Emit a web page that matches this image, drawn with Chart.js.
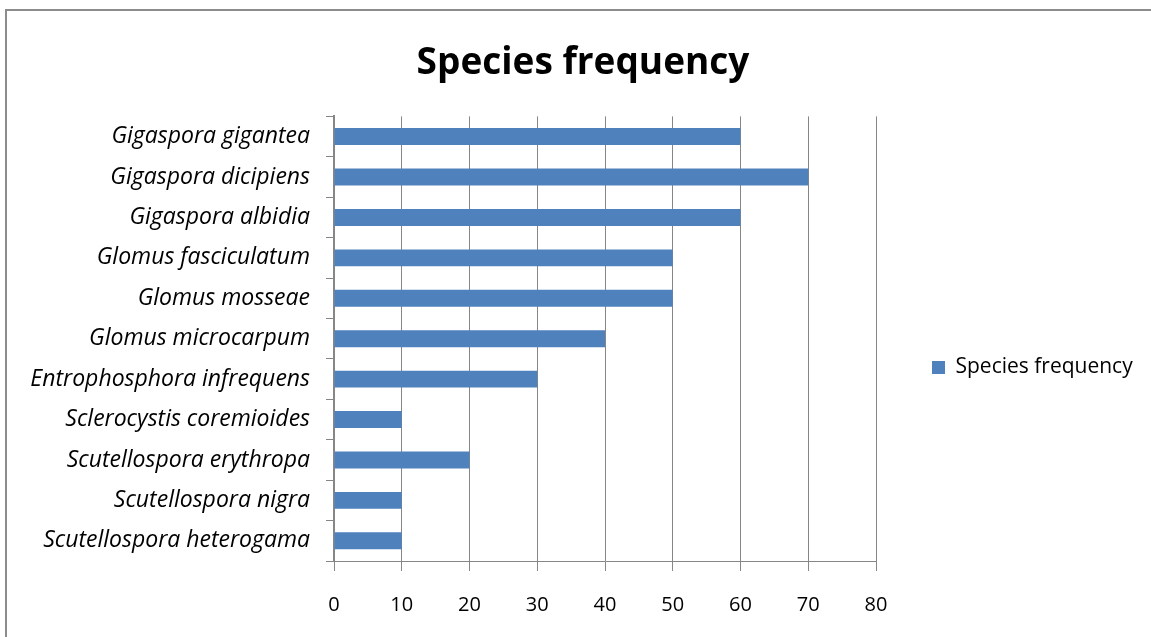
<!DOCTYPE html>
<html>
<head>
<meta charset="utf-8">
<script src="https://cdn.jsdelivr.net/npm/chart.js@4/dist/chart.umd.min.js"></script>
<style>
  html, body { margin: 0; padding: 0; background: #ffffff; }
  #wrap { position: absolute; left: 0; top: 0; width: 1151px; height: 637px; }
</style>
</head>
<body>
<div id="wrap"><canvas id="c" width="1151" height="637"></canvas></div>
<script>
const categories = [
  "Gigaspora gigantea",
  "Gigaspora dicipiens",
  "Gigaspora albidia",
  "Glomus fasciculatum",
  "Glomus mosseae",
  "Glomus microcarpum",
  "Entrophosphora infrequens",
  "Sclerocystis coremioides",
  "Scutellospora erythropa",
  "Scutellospora nigra",
  "Scutellospora heterogama"
];
const speciesFrequency = [60, 70, 60, 50, 50, 40, 30, 10, 20, 10, 10];
const seriesName = "Species frequency";
const chartTitle = "Species frequency";
const xTicks = [0, 10, 20, 30, 40, 50, 60, 70, 80];

const GRID = '#868686';
const FONT = '"Open Sans", "DejaVu Sans", sans-serif';

const framePlugin = {
  id: 'frame',
  beforeDraw(chart) {
    const ctx = chart.ctx;
    ctx.save();
    ctx.fillStyle = '#ffffff';
    ctx.fillRect(0, 0, chart.width, chart.height);
    ctx.strokeStyle = '#8c8c8c';
    ctx.lineWidth = 2;
    ctx.beginPath();
    ctx.moveTo(6, chart.height);
    ctx.lineTo(6, 10);
    ctx.lineTo(chart.width, 10);
    ctx.stroke();
    ctx.restore();
  },
  afterLayout(chart) {
    // place the legend beside the middle of the plot, as in the original
    const lg = chart.legend;
    if (lg) {
      lg.top += 98;
      const dx = 922 - lg.left;
      lg.left += dx;
      lg.right += dx;
    }
  }
};

new Chart(document.getElementById('c'), {
  type: 'bar',
  data: {
    labels: categories,
    datasets: [{
      label: seriesName,
      data: speciesFrequency,
      backgroundColor: '#4F81BD',
      borderWidth: 0,
      barPercentage: 0.42,
      categoryPercentage: 1.0
    }]
  },
  options: {
    indexAxis: 'y',
    responsive: false,
    animation: false,
    devicePixelRatio: 1,
    layout: { padding: { left: 25, right: 10, top: 0, bottom: 0 } },
    plugins: {
      title: {
        display: true,
        text: chartTitle,
        color: '#000000',
        font: { family: FONT, size: 37, weight: 'bold' },
        padding: { top: 41, bottom: 31 }
      },
      legend: {
        display: true,
        position: 'right',
        labels: {
          color: '#000000',
          font: { family: FONT, size: 21 },
          boxWidth: 13,
          boxHeight: 13,
          padding: 10
        }
      },
      tooltip: { enabled: false }
    },
    scales: {
      x: {
        min: 0,
        max: 80,
        afterBuildTicks(scale) { scale.ticks = xTicks.map(v => ({ value: v })); },
        afterFit(scale) {
          scale.height = 76;
          scale.paddingRight = 275;
        },
        grid: {
          color: GRID,
          lineWidth: 1,
          tickLength: 10,
          drawTicks: true,
          tickColor: GRID
        },
        border: { display: true, color: GRID, width: 1 },
        ticks: {
          color: '#000000',
          font: { family: FONT, size: 20 },
          padding: 22
        }
      },
      y: {
        afterFit(scale) { scale.width = 309; },
        grid: {
          display: true,
          drawOnChartArea: false,
          drawTicks: true,
          tickLength: 8,
          color: GRID,
          tickColor: GRID,
          offset: true
        },
        border: { display: true, color: GRID, width: 2 },
        ticks: {
          color: '#000000',
          font: { family: FONT, size: 23, style: 'italic' },
          padding: 16
        }
      }
    }
  },
  plugins: [framePlugin]
});
</script>
</body>
</html>
